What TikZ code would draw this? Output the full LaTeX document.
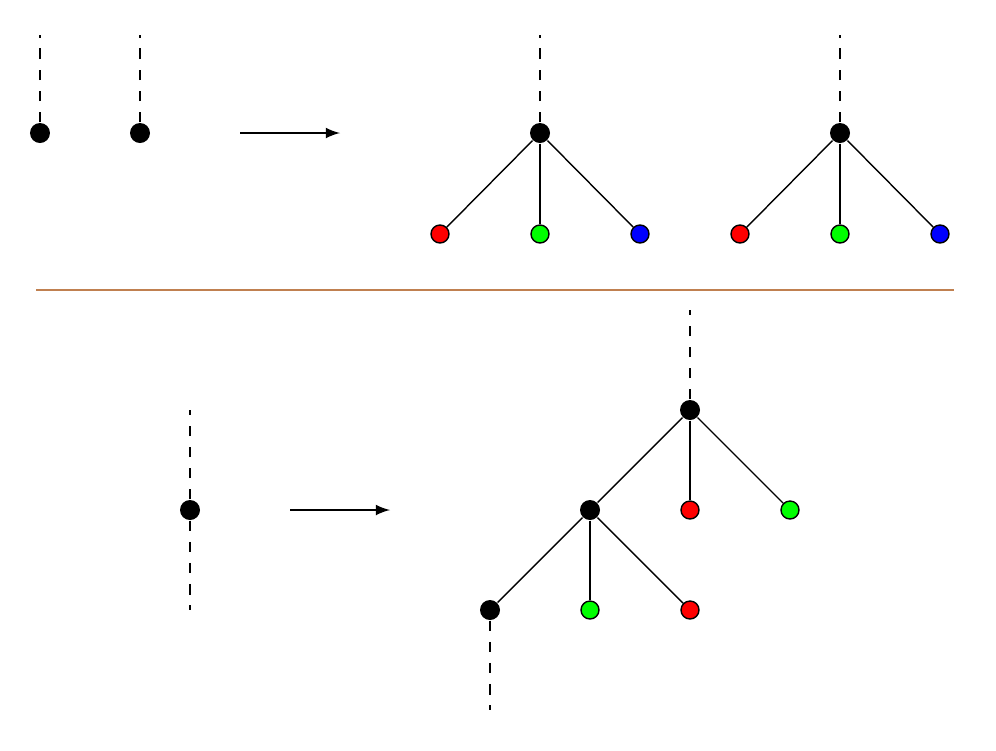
\documentclass[tikz,border=0pt]{standalone}
\usetikzlibrary{arrows}
\definecolor{sepbrown}{RGB}{192,128,80}
\tikzset{
 blk/.style={circle,fill=black,inner sep=0pt,minimum size=0.2cm},
 leaf/.style={circle,draw=black,fill=#1,inner sep=0pt,minimum size=0.18cm},
 stub/.style={dashed,thick}
}
\begin{document}
\begin{tikzpicture}[>=latex,x=1cm,y=-1cm]
\useasboundingbox (0,0) rectangle (9.96,7.5);
%===top: two roots===
\node[blk] (p) at (0.4,1.33){};
\node[blk] (q) at (1.4,1.33){};
\coordinate (pu) at (0.4,0.35); \coordinate (qu) at (1.4,0.35);
\draw[stub] (p) -- (pu); \draw[stub] (q) -- (qu);
\coordinate (a1) at (2.4,1.33); \coordinate (a2) at (3.4,1.33);
\draw[->] (a1) -- (a2);
%===top: two trees===
\foreach \x/\n in {5.4/r, 8.4/s}{
 \node[blk] (\n) at (\x,1.33){};
 \coordinate (\n u) at (\x,0.35);
 \draw[stub] (\n) -- (\n u);
 \node[leaf=red] (\n1) at (\x-1,2.34){};
 \node[leaf=green] (\n2) at (\x,2.34){};
 \node[leaf=blue] (\n3) at (\x+1,2.34){};
 \draw (\n) -- (\n1); \draw (\n) -- (\n2); \draw (\n) -- (\n3);
}
%===separator===
\coordinate (l1) at (0.36,2.9); \coordinate (l2) at (9.54,2.9);
\draw[sepbrown] (l1) -- (l2);
%===bottom: single node===
\node[blk] (m) at (1.9,5.1){};
\coordinate (mu) at (1.9,4.1); \coordinate (md) at (1.9,6.1);
\draw[stub] (m) -- (mu); \draw[stub] (m) -- (md);
\coordinate (b1) at (2.9,5.1); \coordinate (b2) at (3.9,5.1);
\draw[->] (b1) -- (b2);
%===bottom: tree===
\node[blk] (t) at (6.9,4.1){};
\coordinate (tu) at (6.9,3.1);
\draw[stub] (t) -- (tu);
\node[blk] (t1) at (5.9,5.1){};
\node[leaf=red] (t2) at (6.9,5.1){};
\node[leaf=green] (t3) at (7.9,5.1){};
\draw (t) -- (t1); \draw (t) -- (t2); \draw (t) -- (t3);
\node[blk] (u1) at (4.9,6.1){};
\node[leaf=green] (u2) at (5.9,6.1){};
\node[leaf=red] (u3) at (6.9,6.1){};
\draw (t1) -- (u1); \draw (t1) -- (u2); \draw (t1) -- (u3);
\coordinate (ud) at (4.9,7.1);
\draw[stub] (u1) -- (ud);
\end{tikzpicture}
\end{document}
